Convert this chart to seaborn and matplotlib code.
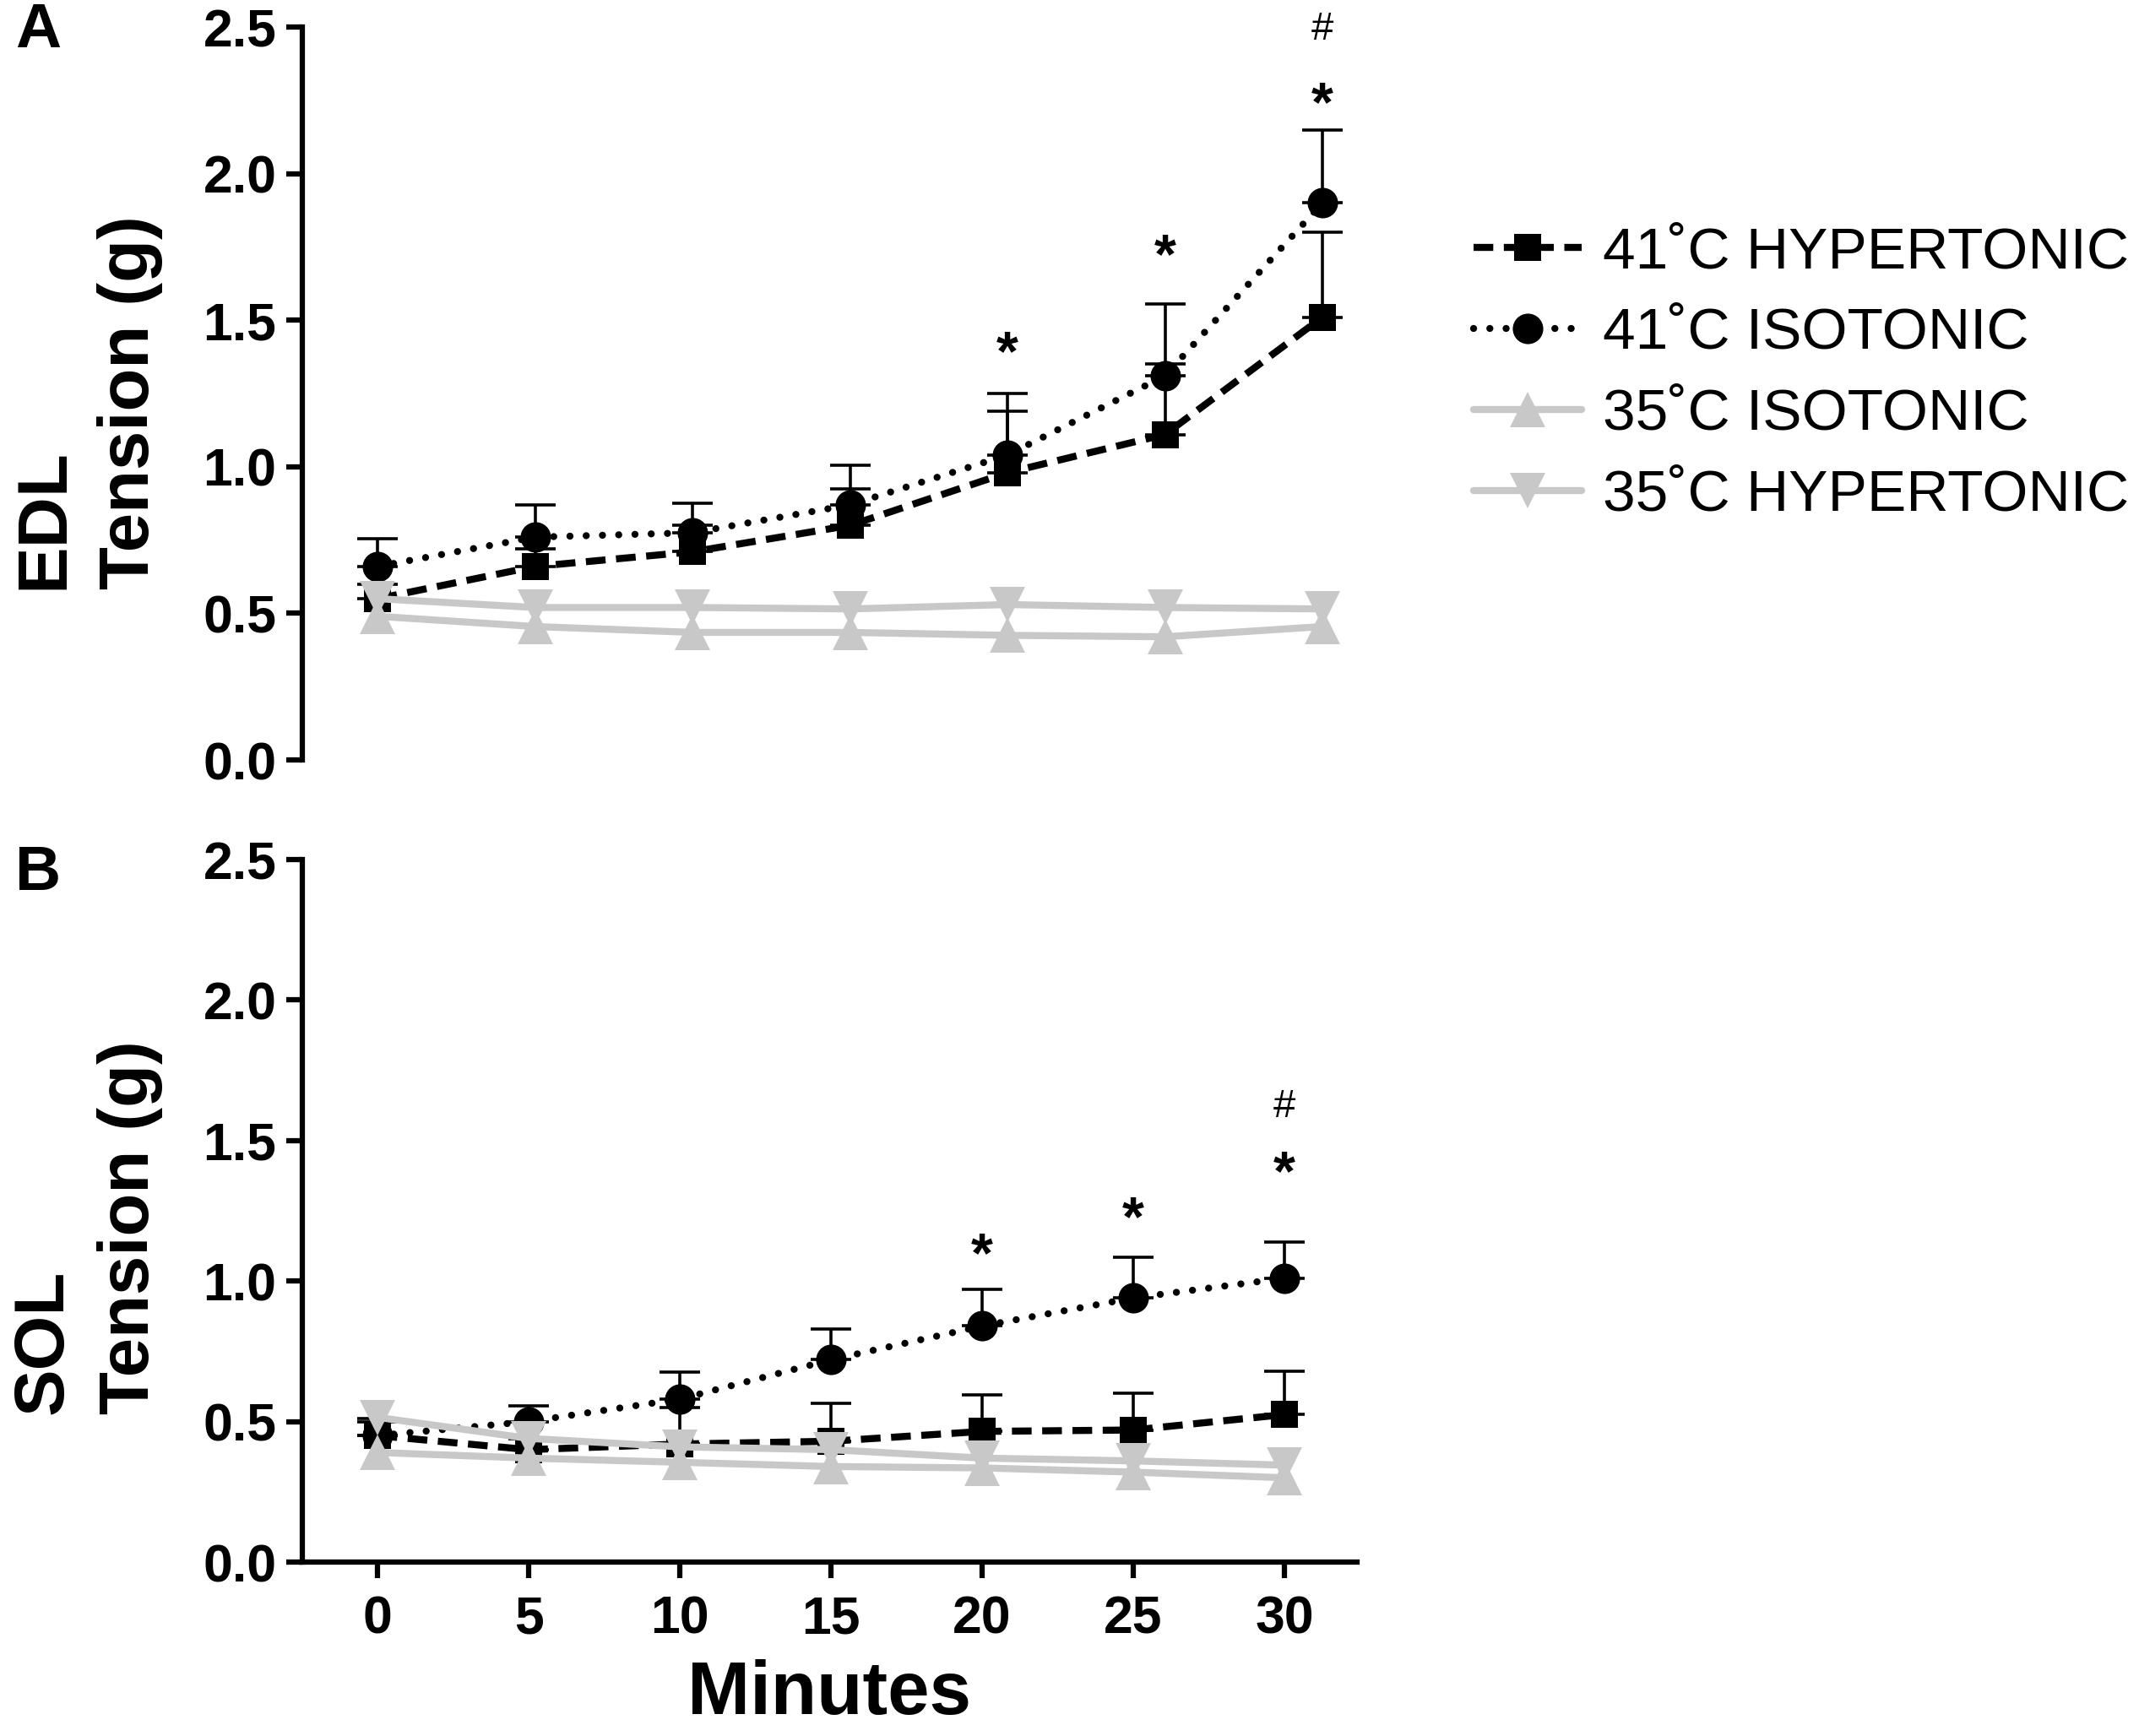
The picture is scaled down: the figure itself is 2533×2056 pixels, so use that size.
import numpy as np
import pandas as pd
import matplotlib
matplotlib.use("Agg")
import matplotlib.pyplot as plt
import seaborn as sns

# data
minutes = [0, 5, 10, 15, 20, 25, 30]

# panel A - EDL
edl_hyper_41 = [0.55, 0.66, 0.71, 0.80, 0.98, 1.11, 1.51]
edl_hyper_41_sem = [0.05, 0.06, 0.09, 0.125, 0.21, 0.24, 0.29]
edl_iso_41 = [0.66, 0.76, 0.775, 0.87, 1.04, 1.31, 1.90]
edl_iso_41_sem = [0.095, 0.11, 0.10, 0.135, 0.21, 0.245, 0.25]
edl_iso_35 = [0.49, 0.455, 0.435, 0.435, 0.425, 0.42, 0.455]
edl_hyper_35 = [0.55, 0.52, 0.52, 0.515, 0.53, 0.52, 0.515]

# panel B - SOL
sol_hyper_41 = [0.45, 0.40, 0.42, 0.43, 0.465, 0.47, 0.525]
sol_hyper_41_sem = [0.06, 0.04, 0.13, 0.135, 0.13, 0.13, 0.155]
sol_iso_41 = [0.45, 0.50, 0.58, 0.72, 0.84, 0.94, 1.01]
sol_iso_41_sem = [0.05, 0.055, 0.095, 0.11, 0.13, 0.145, 0.13]
sol_hyper_35 = [0.515, 0.44, 0.41, 0.40, 0.37, 0.36, 0.345]
sol_iso_35 = [0.39, 0.37, 0.355, 0.34, 0.335, 0.32, 0.30]

series_names = ["41˚C HYPERTONIC", "41˚C ISOTONIC", "35˚C ISOTONIC", "35˚C HYPERTONIC"]

# significance marks (minute, y position)
edl_stars = [(20, 1.38), (25, 1.71), (30, 2.23)]
edl_hash = [(30, 2.49)]
sol_stars = [(20, 1.085), (25, 1.215), (30, 1.375)]
sol_hash = [(30, 1.62)]

sns.set_theme(style="ticks")
plt.rcParams["font.family"] = ["Liberation Sans", "DejaVu Sans"]
plt.rcParams.update({"text.color": "black", "axes.labelcolor": "black",
                     "xtick.color": "black", "ytick.color": "black",
                     "axes.edgecolor": "black"})

GRAY = "#c8c8c8"
W, H = 2533, 2056
fig = plt.figure(figsize=(W / 100, H / 100), dpi=100)

ax_a = fig.add_axes([358 / W, 1 - 900 / H, 1249 / W, 868 / H])
ax_b = fig.add_axes([358 / W, 1 - 1850 / H, 1249 / W, 832 / H])


def draw_panel(ax, hyper41, hyper41_sem, iso41, iso41_sem, iso35, hyper35, label):
    zeros = np.zeros(len(minutes))
    ax.errorbar(minutes, iso41, yerr=[zeros, iso41_sem], fmt="none", ecolor="black",
                elinewidth=2.6, capsize=17, capthick=2.6, zorder=1.5, clip_on=False)
    ax.errorbar(minutes, hyper41, yerr=[zeros, hyper41_sem], fmt="none", ecolor="black",
                elinewidth=2.6, capsize=17, capthick=2.6, zorder=1.5, clip_on=False)
    sns.lineplot(x=minutes, y=iso41, ax=ax, color="black", marker="o", markersize=26,
                 markeredgewidth=0, linewidth=6, linestyle=(0, (0.01, 2.3)),
                 dash_capstyle="round", label=series_names[1], legend=False, clip_on=False)
    sns.lineplot(x=minutes, y=hyper41, ax=ax, color="black", marker="s", markersize=23,
                 markeredgewidth=0, linewidth=6, linestyle=(0, (2.8, 1.5)),
                 label=series_names[0], legend=False, clip_on=False)
    sns.lineplot(x=minutes, y=iso35, ax=ax, color=GRAY, marker="^", markersize=30,
                 markeredgewidth=0, linewidth=6, solid_capstyle="round",
                 label=series_names[2], legend=False, clip_on=False)
    sns.lineplot(x=minutes, y=hyper35, ax=ax, color=GRAY, marker="v", markersize=30,
                 markeredgewidth=0, linewidth=6, solid_capstyle="round",
                 label=series_names[3], legend=False, clip_on=False)

    ax.set_ylim(0, 2.5)
    ax.set_yticks([0, 0.5, 1.0, 1.5, 2.0, 2.5])
    ax.set_yticklabels(["0.0", "0.5", "1.0", "1.5", "2.0", "2.5"])
    ax.tick_params(axis="y", length=14, width=4.5, pad=8, labelsize=45)
    for t in ax.get_yticklabels():
        t.set_fontweight("bold")
    ax.spines["left"].set_linewidth(4.5)
    ax.spines["bottom"].set_linewidth(4.5)
    sns.despine(ax=ax)
    ax.set_ylabel(label, fontsize=60, fontweight="bold", multialignment="left",
                  linespacing=1.4)
    ax.yaxis.label.set_va("center")


draw_panel(ax_a, edl_hyper_41, edl_hyper_41_sem, edl_iso_41, edl_iso_41_sem,
           edl_iso_35, edl_hyper_35, "EDL\nTension (g)")
draw_panel(ax_b, sol_hyper_41, sol_hyper_41_sem, sol_iso_41, sol_iso_41_sem,
           sol_iso_35, sol_hyper_35, "SOL\nTension (g)")

ax_a.yaxis.set_label_coords(-0.204, 0.488)
ax_b.yaxis.set_label_coords(-0.204, 0.476)

# panel A has no x axis
ax_a.set_xlim(-2.39, 31.1)
ax_a.spines["bottom"].set_visible(False)
ax_a.set_xticks([])
ax_a.set_xlabel("")

ax_b.set_xlim(-2.49, 32.4)
ax_b.set_xticks(minutes)
ax_b.set_xticklabels([str(m) for m in minutes])
ax_b.tick_params(axis="x", length=14, width=4.5, pad=14, labelsize=45)
for t in ax_b.get_xticklabels():
    t.set_fontweight("bold")
ax_b.set_xlabel("Minutes", fontsize=64, fontweight="bold", labelpad=12)

for ax, stars, hashes in [(ax_a, edl_stars, edl_hash), (ax_b, sol_stars, sol_hash)]:
    for xm, ym in stars:
        ax.text(xm, ym, "*", ha="center", va="center", fontsize=48, fontweight="bold")
    for xm, ym in hashes:
        ax.text(xm, ym, "#", ha="center", va="center", fontsize=34)

fig.text(45 / W, 1 - 36 / H, "A", ha="center", va="center", fontsize=54, fontweight="bold")
fig.text(45 / W, 1 - 1034 / H, "B", ha="center", va="center", fontsize=54, fontweight="bold")

handles, labels = ax_a.get_legend_handles_labels()
order = [labels.index(n) for n in series_names]
fig.legend([handles[i] for i in order], [labels[i] for i in order],
           loc="upper left", bbox_to_anchor=(1745 / W, 1 - 267 / H),
           frameon=False, fontsize=50, handlelength=1.85, handletextpad=0.35,
           labelspacing=0.46, borderpad=0, borderaxespad=0)

fig.savefig("out.png", dpi=100)
